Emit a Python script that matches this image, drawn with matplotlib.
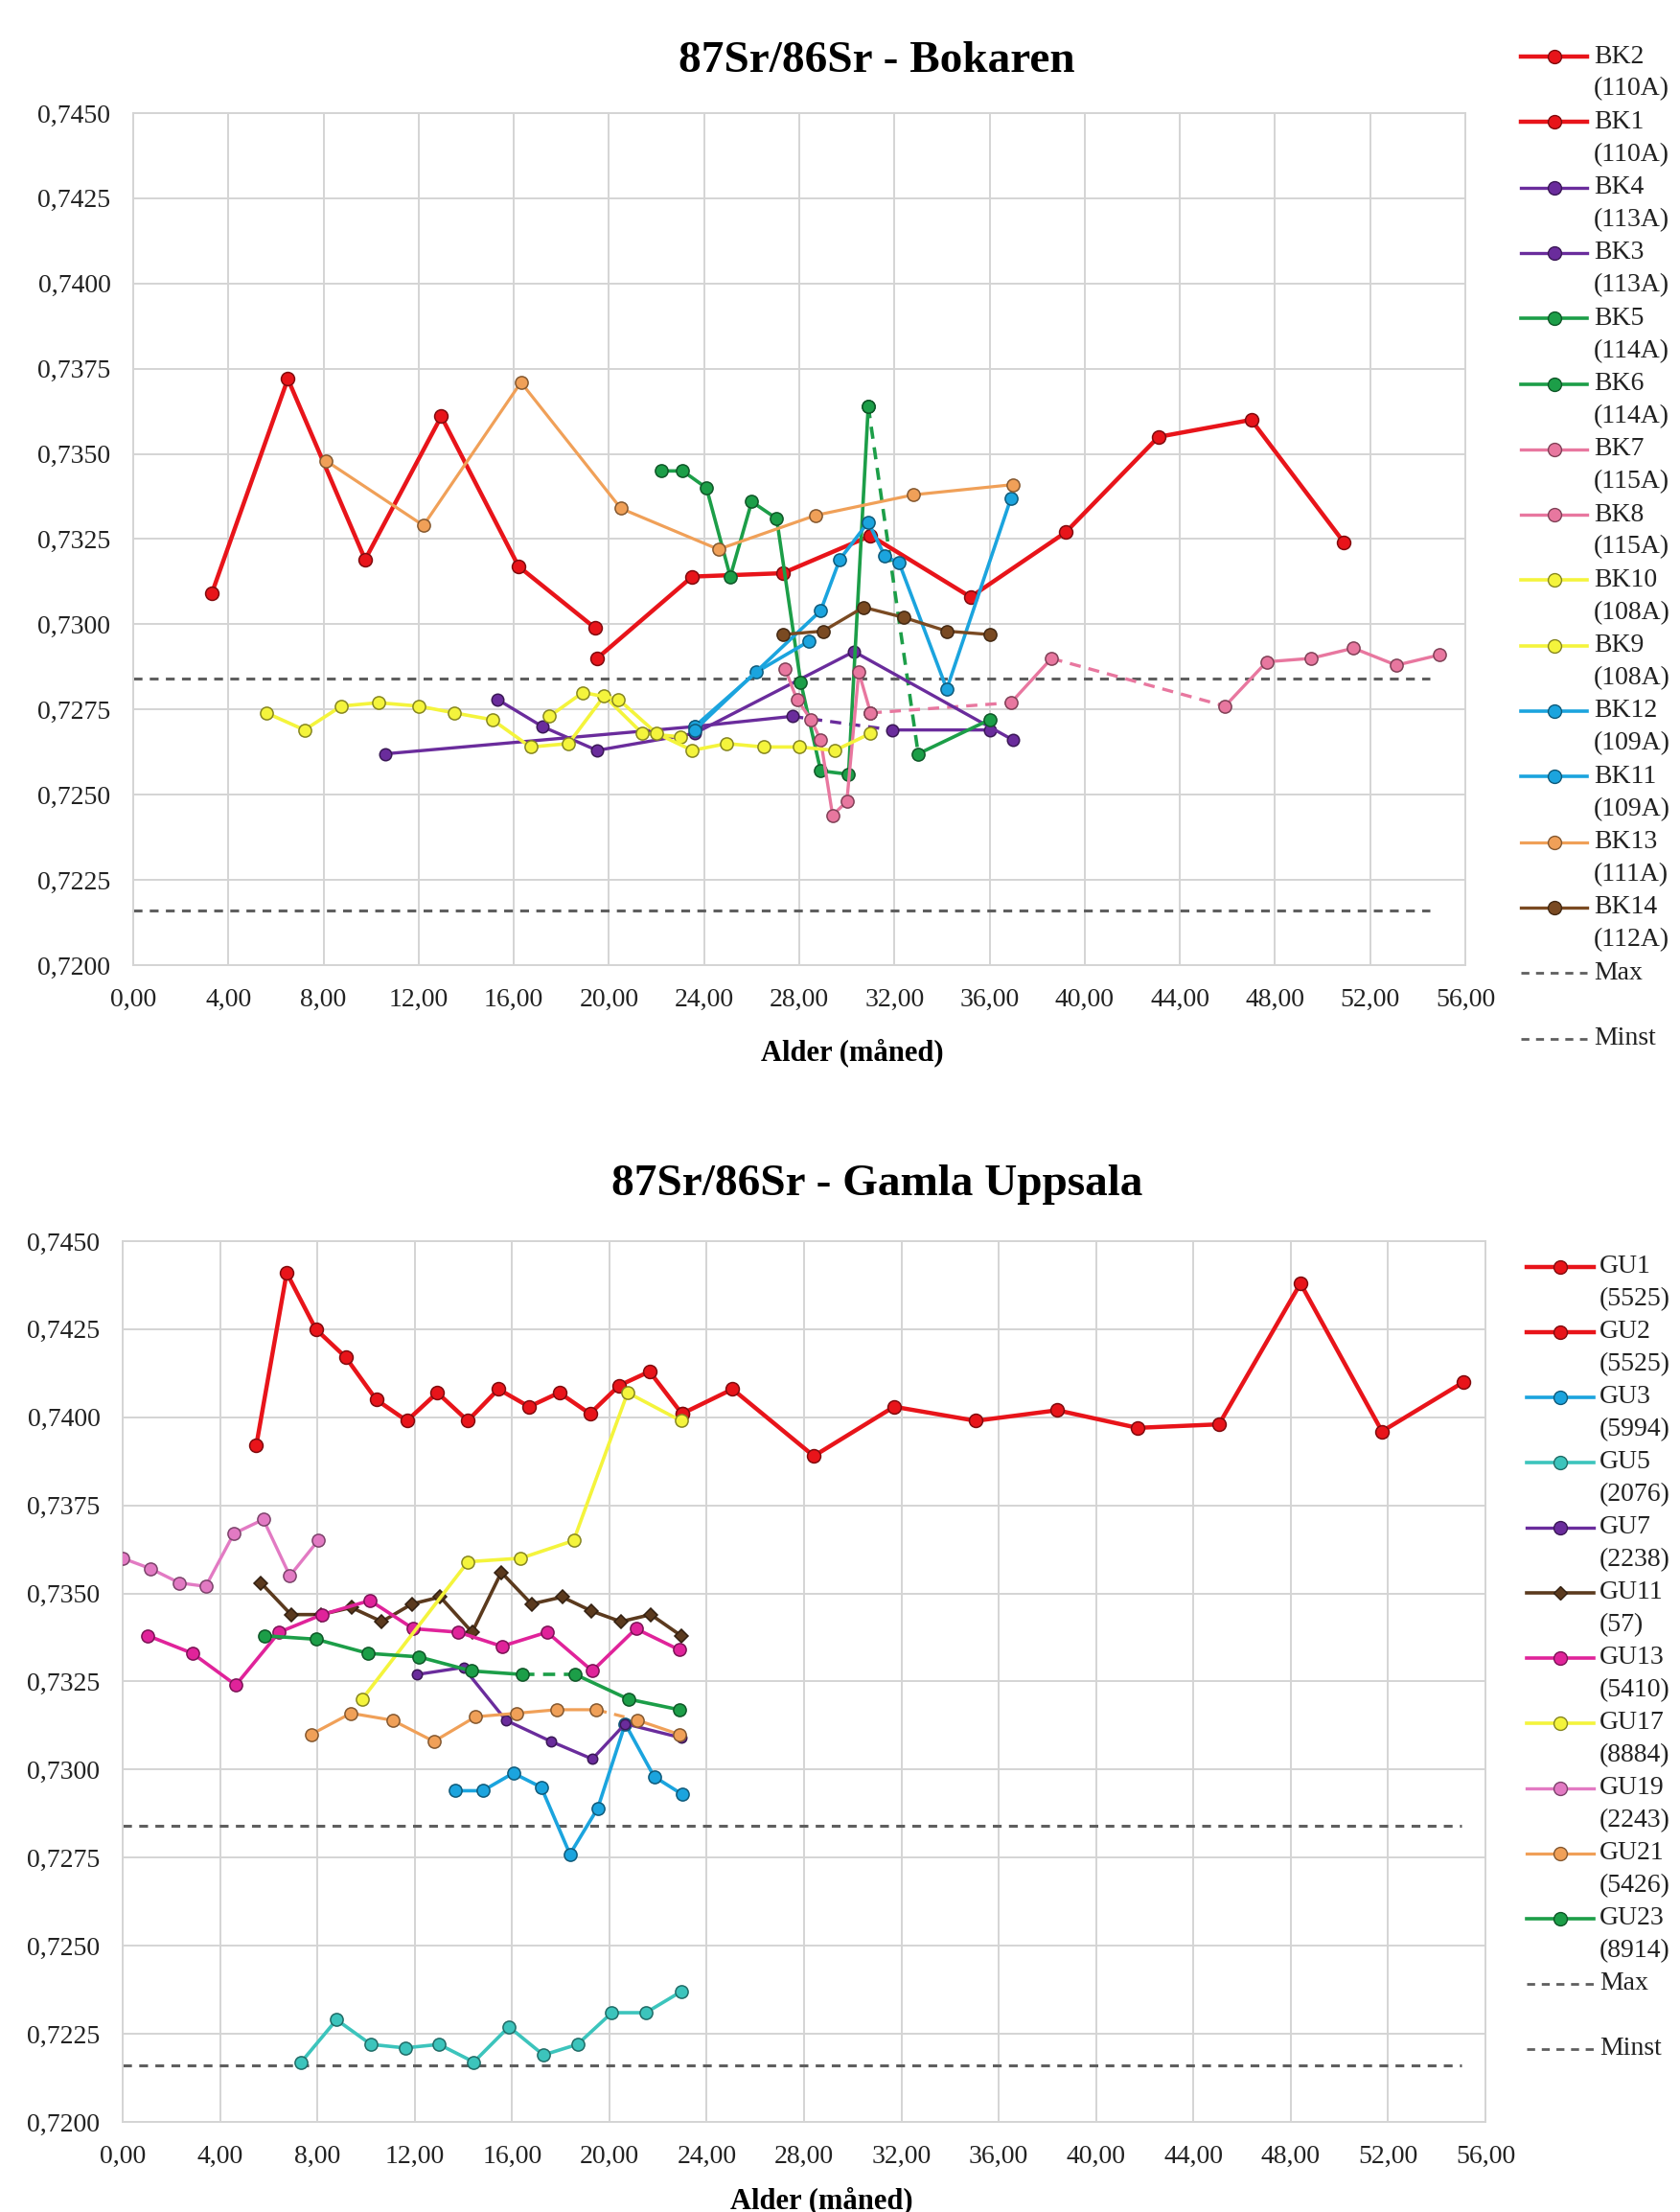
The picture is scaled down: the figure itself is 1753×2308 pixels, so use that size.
import numpy as np
import matplotlib
matplotlib.use("Agg")
import matplotlib.pyplot as plt
from matplotlib.lines import Line2D
from matplotlib.ticker import FuncFormatter, MultipleLocator

plt.rcParams["font.family"] = ["Liberation Serif", "DejaVu Serif"]

nan = np.nan

# ---------------- Bokaren ----------------
bk2_x = [3.3, 6.5, 9.75, 12.95, 16.2, 19.4]
bk2_y = [0.7309, 0.7372, 0.7319, 0.7361, 0.7317, 0.7299]
bk1_x = [19.5, 23.5, 27.3, 31.0, 35.2, 39.2, 43.1, 47.0, 50.9]
bk1_y = [0.7290, 0.7314, 0.7315, 0.7326, 0.7308, 0.7327, 0.7355, 0.7360, 0.7324]
bk4_x = [10.6, 23.6, 27.7, 29.8, 31.9, 36.0]
bk4_y = [0.7262, 0.7270, 0.7273, nan, 0.7269, 0.7269]
bk3_x = [15.3, 17.2, 19.5, 23.6, 30.3, 37.0]
bk3_y = [0.7278, 0.7270, 0.7263, 0.7268, 0.7292, 0.7266]
bk5_x = [22.2, 23.1, 24.1, 25.1, 26.0, 27.05, 28.06, 28.9, 30.07, 30.9]
bk5_y = [0.7345, 0.7345, 0.7340, 0.7314, 0.7336, 0.7331, 0.7283, 0.7257, 0.7256, 0.7364]
bk6_x = [30.9, 31.9, 33.0, 36.0]
bk6_y = [0.7364, nan, 0.7262, 0.7272]
bk7_x = [27.4, 27.9, 28.5, 28.9, 29.4, 30.0, 30.5, 31.0]
bk7_y = [0.7287, 0.7278, 0.7272, 0.7266, 0.7244, 0.7248, 0.7286, 0.7274]
bk8_x = [31.0, 34.0, 36.9, 38.6, 42.0, 45.9, 47.65, 49.5, 51.3, 53.1, 54.9]
bk8_y = [0.7274, nan, 0.7277, 0.7290, nan, 0.7276, 0.7289, 0.7290, 0.7293, 0.7288, 0.7291]
bk10_x = [5.6, 7.2, 8.75, 10.3, 12.0, 13.5, 15.1, 16.7, 18.3, 19.8, 21.4, 23.0]
bk10_y = [0.7274, 0.7269, 0.7276, 0.7277, 0.7276, 0.7274, 0.7272, 0.7264, 0.7265, 0.7279, 0.7268, 0.7267]
bk9_x = [17.5, 18.9, 20.4, 22.0, 23.5, 24.95, 26.5, 28.0, 29.5, 31.0]
bk9_y = [0.7273, 0.7280, 0.7278, 0.7268, 0.7263, 0.7265, 0.7264, 0.7264, 0.7263, 0.7268]
bk12_x = [23.6, 26.2, 28.4]
bk12_y = [0.7270, 0.7286, 0.7295]
bk11_x = [23.6, 28.9, 29.7, 30.9, 31.6, 32.2, 34.2, 36.9]
bk11_y = [0.7269, 0.7304, 0.7319, 0.7330, 0.7320, 0.7318, 0.7281, 0.7337]
bk13_x = [8.1, 12.2, 16.3, 20.5, 24.6, 28.7, 32.8, 37.0]
bk13_y = [0.7348, 0.7329, 0.7371, 0.7334, 0.7322, 0.7332, 0.7338, 0.7341]
bk14_x = [27.3, 29.0, 30.7, 32.4, 34.2, 36.0]
bk14_y = [0.7297, 0.7298, 0.7305, 0.7302, 0.7298, 0.7297]

# ---------------- Gamla Uppsala ----------------
gu1_x = [5.49, 6.74, 7.94, 9.17, 10.42, 11.68, 12.93, 14.18, 15.44, 16.7, 17.94, 19.2, 20.4, 21.65, 22.98]
gu1_y = [0.7392, 0.7441, 0.7425, 0.7417, 0.7405, 0.7399, 0.7407, 0.7399, 0.7408, 0.7403, 0.7407, 0.7401, 0.7409, 0.7413, 0.7401]
gu2_x = [22.98, 25.06, 28.4, 31.7, 35.06, 38.4, 41.7, 45.05, 48.4, 51.75, 55.1]
gu2_y = [0.7401, 0.7408, 0.7389, 0.7403, 0.7399, 0.7402, 0.7397, 0.7398, 0.7438, 0.7396, 0.7410]
gu3_x = [13.68, 14.8, 16.05, 17.2, 18.38, 19.52, 20.65, 21.84, 22.99]
gu3_y = [0.7294, 0.7294, 0.7299, 0.7295, 0.7276, 0.7289, 0.7313, 0.7298, 0.7293]
gu5_x = [7.34, 8.79, 10.2, 11.6, 13.0, 14.43, 15.87, 17.29, 18.69, 20.1, 21.5, 22.95]
gu5_y = [0.7217, 0.7229, 0.7222, 0.7221, 0.7222, 0.7217, 0.7227, 0.7219, 0.7222, 0.7231, 0.7231, 0.7237]
gu7_x = [12.1, 14.0, 15.75, 17.6, 19.3, 20.65, 22.97]
gu7_y = [0.7327, 0.7329, 0.7314, 0.7308, 0.7303, 0.7313, 0.7309]
gu11_x = [5.68, 6.92, 8.15, 9.4, 10.65, 11.88, 13.05, 14.36, 15.56, 16.8, 18.06, 19.27, 20.47, 21.7, 22.95]
gu11_y = [0.7353, 0.7344, 0.7344, 0.7346, 0.7342, 0.7347, 0.7349, 0.7339, 0.7356, 0.7347, 0.7349, 0.7345, 0.7342, 0.7344, 0.7338]
gu13_x = [1.04, 2.87, 4.65, 6.43, 8.2, 10.16, 11.94, 13.8, 15.58, 17.44, 19.3, 21.09, 22.87]
gu13_y = [0.7338, 0.7333, 0.7324, 0.7339, 0.7344, 0.7348, 0.7340, 0.7339, 0.7335, 0.7339, 0.7328, 0.7340, 0.7334]
gu17_x = [9.84, 14.19, 16.36, 18.53, 20.75, 22.94]
gu17_y = [0.7320, 0.7359, 0.7360, 0.7365, 0.7407, 0.7399]
gu19_x = [0.0, 1.16, 2.33, 3.41, 4.57, 5.78, 6.87, 8.03]
gu19_y = [0.7360, 0.7357, 0.7353, 0.7352, 0.7367, 0.7371, 0.7355, 0.7365]
gu21_x = [7.75, 9.38, 11.09, 12.79, 14.5, 16.2, 17.83, 19.46, 20.3, 21.16, 22.87]
gu21_y = [0.7310, 0.7316, 0.7314, 0.7308, 0.7315, 0.7316, 0.7317, 0.7317, nan, 0.7314, 0.7310]
gu23_x = [5.81, 7.95, 10.08, 12.17, 14.34, 16.43, 17.5, 18.6, 20.78, 22.87]
gu23_y = [0.7338, 0.7337, 0.7333, 0.7332, 0.7328, 0.7327, nan, 0.7327, 0.7320, 0.7317]

max_val = 0.7284
min_val = 0.7216
ref_x_top = [0, 54.5]
ref_x_bot = [0, 55.0]

RED = "#e8141a"
PURPLE = "#6a2c9c"
GREEN = "#1c9e48"
PINK = "#e8779f"
YELLOW = "#f4f43c"
BLUE = "#1ba4de"
ORANGE = "#f0a058"
BROWN = "#7a4a22"
CYAN = "#3cc4bc"
MAGENTA = "#e0239a"
ORCHID = "#e27ac3"
DKBROWN = "#5b3a1e"
GRAY = "#5f5f5f"

bk_series = [
    ("BK2", "(110A)", bk2_x, bk2_y, RED, "o", 3.2, 10),
    ("BK1", "(110A)", bk1_x, bk1_y, RED, "o", 3.2, 10),
    ("BK4", "(113A)", bk4_x, bk4_y, PURPLE, "o", 2.4, 9),
    ("BK3", "(113A)", bk3_x, bk3_y, PURPLE, "o", 2.4, 9),
    ("BK5", "(114A)", bk5_x, bk5_y, GREEN, "o", 2.6, 9.5),
    ("BK6", "(114A)", bk6_x, bk6_y, GREEN, "o", 2.6, 9.5),
    ("BK7", "(115A)", bk7_x, bk7_y, PINK, "o", 2.4, 9.5),
    ("BK8", "(115A)", bk8_x, bk8_y, PINK, "o", 2.4, 9.5),
    ("BK10", "(108A)", bk10_x, bk10_y, YELLOW, "o", 2.6, 9.5),
    ("BK9", "(108A)", bk9_x, bk9_y, YELLOW, "o", 2.6, 9.5),
    ("BK12", "(109A)", bk12_x, bk12_y, BLUE, "o", 2.6, 9.5),
    ("BK11", "(109A)", bk11_x, bk11_y, BLUE, "o", 2.6, 9.5),
    ("BK13", "(111A)", bk13_x, bk13_y, ORANGE, "o", 2.3, 9.5),
    ("BK14", "(112A)", bk14_x, bk14_y, BROWN, "o", 2.4, 9.5),
]

gu_series = [
    ("GU1", "(5525)", gu1_x, gu1_y, RED, "o", 3.2, 10),
    ("GU2", "(5525)", gu2_x, gu2_y, RED, "o", 3.2, 10),
    ("GU3", "(5994)", gu3_x, gu3_y, BLUE, "o", 2.6, 9.5),
    ("GU5", "(2076)", gu5_x, gu5_y, CYAN, "o", 2.6, 9.5),
    ("GU7", "(2238)", gu7_x, gu7_y, PURPLE, "o", 2.4, 7.5),
    ("GU11", "(57)", gu11_x, gu11_y, DKBROWN, "D", 2.6, 7.5),
    ("GU13", "(5410)", gu13_x, gu13_y, MAGENTA, "o", 2.6, 9.5),
    ("GU17", "(8884)", gu17_x, gu17_y, YELLOW, "o", 2.6, 9.5),
    ("GU19", "(2243)", gu19_x, gu19_y, ORCHID, "o", 2.4, 9.5),
    ("GU21", "(5426)", gu21_x, gu21_y, ORANGE, "o", 2.3, 9.5),
    ("GU23", "(8914)", gu23_x, gu23_y, GREEN, "o", 2.6, 9.5),
]

W, H = 1753, 2308
fig = plt.figure(figsize=(W / 100, H / 100), dpi=100)


def darker(c, f=0.55):
    rgb = np.array(matplotlib.colors.to_rgb(c))
    return tuple(rgb * f)


def draw_series(ax, x, y, color, marker, lw, ms):
    x = np.asarray(x, float)
    y = np.asarray(y, float)
    idx = np.where(~np.isnan(y))[0]
    # dashed bridge where a value is missing
    for a, b in zip(idx[:-1], idx[1:]):
        if b - a > 1:
            ax.plot([x[a], x[b]], [y[a], y[b]], color=color, lw=lw,
                    ls=(0, (3.5, 2.5)), zorder=3)
    ax.plot(x, y, color=color, lw=lw, marker=marker, ms=ms,
            mfc=color, mec=darker(color), mew=1.1, zorder=4)


def style_axes(ax, ylo=0.7200, yhi=0.7450):
    ax.set_xlim(0, 56)
    ax.set_ylim(ylo, yhi)
    ax.xaxis.set_major_locator(MultipleLocator(4))
    ax.yaxis.set_major_locator(MultipleLocator(0.0025))
    ax.xaxis.set_major_formatter(FuncFormatter(lambda v, p: f"{v:.2f}".replace(".", ",")))
    ax.yaxis.set_major_formatter(FuncFormatter(lambda v, p: f"{v:.4f}".replace(".", ",")))
    ax.grid(True, color="#d4d4d4", lw=1.4, zorder=0)
    ax.set_axisbelow(True)
    for s in ax.spines.values():
        s.set_color("#d4d4d4")
        s.set_linewidth(1.4)
    ax.tick_params(length=0, labelsize=20, pad=17, colors="#222222")


def draw_legend(entries, x0, x1, tx, y0, dy):
    for i, (name, sub, color, marker, lw) in enumerate(entries):
        yc = y0 + i * dy
        yf = 1 - yc / H
        xm = (x0 + x1) / 2
        if marker is None:
            fig.add_artist(Line2D([x0 / W, x1 / W], [yf, yf], color=GRAY, lw=2,
                                  ls=(0, (3, 2.5)), transform=fig.transFigure))
        else:
            fig.add_artist(Line2D([x0 / W, xm / W, x1 / W], [yf, yf, yf], color=color, lw=lw,
                                  marker=marker, markevery=[1], ms=10 if marker == "o" else 7,
                                  mfc=color, mec=darker(color), transform=fig.transFigure))
        fig.text(tx / W, yf, name, fontsize=20, va="center", ha="left", color="#222222")
        if sub:
            fig.text(tx / W, 1 - (yc + 34) / H, sub, fontsize=20, va="center", ha="left",
                     color="#222222")


# top chart
ax1 = fig.add_axes([139 / W, 1 - 1007 / H, (1529 - 139) / W, (1007 - 118) / H])
style_axes(ax1)
ax1.plot(ref_x_top, [max_val, max_val], color=GRAY, lw=2.2, ls=(0, (3, 2.5)), zorder=2)
ax1.plot(ref_x_top, [min_val, min_val], color=GRAY, lw=2.2, ls=(0, (3, 2.5)), zorder=2)
for name, sub, x, y, c, m, lw, ms in bk_series:
    draw_series(ax1, x, y, c, m, lw, ms)
fig.text(915 / W, 1 - 64 / H, "87Sr/86Sr - Bokaren", fontsize=34, fontweight="bold",
         ha="center", va="center")
fig.text(889 / W, 1 - 1098 / H, "Alder (måned)", fontsize=22, fontweight="bold",
         ha="center", va="center")
top_entries = [(n, s, c, m, lw) for n, s, x, y, c, m, lw, ms in bk_series]
top_entries += [("Max", "", GRAY, None, 2), ("Minst", "", GRAY, None, 2)]
draw_legend(top_entries, 1587, 1656, 1663, 59, 68.3)

# bottom chart
ax2 = fig.add_axes([128 / W, 1 - 2214 / H, (1550 - 128) / W, (2214 - 1295) / H])
style_axes(ax2)
ax2.plot(ref_x_bot, [max_val, max_val], color=GRAY, lw=2.2, ls=(0, (3, 2.5)), zorder=2)
ax2.plot(ref_x_bot, [min_val, min_val], color=GRAY, lw=2.2, ls=(0, (3, 2.5)), zorder=2)
for name, sub, x, y, c, m, lw, ms in gu_series:
    draw_series(ax2, x, y, c, m, lw, ms)
fig.text(915 / W, 1 - 1236 / H, "87Sr/86Sr - Gamla Uppsala", fontsize=34, fontweight="bold",
         ha="center", va="center")
fig.text(857 / W, 1 - 2296 / H, "Alder (måned)", fontsize=22, fontweight="bold",
         ha="center", va="center")
bot_entries = [(n, s, c, m, lw) for n, s, x, y, c, m, lw, ms in gu_series]
bot_entries += [("Max", "", GRAY, None, 2), ("Minst", "", GRAY, None, 2)]
draw_legend(bot_entries, 1593, 1663, 1669, 1322, 68)

fig.savefig("out.png", dpi=100, facecolor="white")
